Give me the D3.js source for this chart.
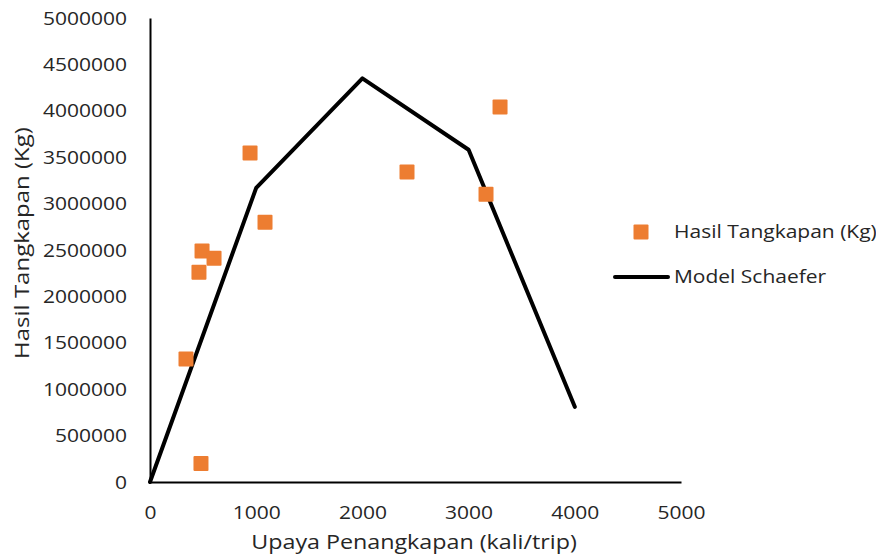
<!DOCTYPE html>
<html>
<head>
<meta charset="utf-8">
<script src="https://cdn.jsdelivr.net/npm/d3@7"></script>
<style>
  html, body { margin: 0; padding: 0; background: #fff; }
  svg text { font-family: "Open Sans", sans-serif; fill: #262626; }
</style>
</head>
<body>
<svg id="chart" width="876" height="559"></svg>
<script>
// ---- data ----
const effort = [942, 1083, 490, 603, 461, 339, 480, 2420, 3164, 3296];
const catchKg = [3545000, 2800000, 2490000, 2410000, 2260000, 1325000, 200000, 3340000, 3100000, 4040000];
const modelEffort = [0, 1000, 2000, 3000, 4000];
const modelCatch = [0, 3170000, 4350000, 3580000, 810000];
const xTicks = [0, 1000, 2000, 3000, 4000, 5000];
const yTicks = [0, 500000, 1000000, 1500000, 2000000, 2500000, 3000000, 3500000, 4000000, 4500000, 5000000];
const seriesNames = ["Hasil Tangkapan (Kg)", "Model Schaefer"];
const xTitle = "Upaya Penangkapan (kali/trip)";
const yTitle = "Hasil Tangkapan (Kg)";

const SX = 1.2; // horizontal stretch of the reference text
const svg = d3.select("#chart");
const m = { left: 150, right: 681, top: 18, bottom: 482 };

const x = d3.scaleLinear().domain([0, 5000]).range([m.left, m.right]);
const y = d3.scaleLinear().domain([0, 5000000]).range([m.bottom, m.top]);

// axes
const xAxis = svg.append("g").attr("transform", `translate(0,${m.bottom})`)
  .call(d3.axisBottom(x).tickValues(xTicks).tickSize(0).tickSizeOuter(0).tickPadding(0).tickFormat(d3.format("d")));
xAxis.select(".domain").attr("stroke", "#000").attr("stroke-width", 2);
xAxis.selectAll(".tick text")
  .attr("y", 0).attr("dy", 0)
  .attr("transform", "translate(0,37) scale(" + SX + ",1)")
  .style("font-size", "17.5px").style("font-family", "'Open Sans', sans-serif").attr("fill", "#262626");

const yAxis = svg.append("g").attr("transform", `translate(${m.left},0)`)
  .call(d3.axisLeft(y).tickValues(yTicks).tickSize(0).tickSizeOuter(0).tickPadding(0).tickFormat(d3.format("d")));
yAxis.select(".domain").attr("stroke", "#000").attr("stroke-width", 2);
yAxis.selectAll(".tick text")
  .attr("x", 0).attr("dy", "0.35em")
  .attr("transform", "translate(-23,0) scale(" + SX + ",1)")
  .style("font-size", "17.5px").style("font-family", "'Open Sans', sans-serif").attr("fill", "#262626");

// model line
const line = d3.line().x((d, i) => x(modelEffort[i])).y(d => y(d));
svg.append("path").datum(modelCatch)
  .attr("d", line).attr("fill", "none").attr("stroke", "#000")
  .attr("stroke-width", 4).attr("stroke-linejoin", "round").attr("stroke-linecap", "round");

// points
const S = 15;
svg.append("g").selectAll("rect").data(effort).join("rect")
  .attr("x", (d) => x(d) - S / 2)
  .attr("y", (d, i) => y(catchKg[i]) - S / 2)
  .attr("width", S).attr("height", S).attr("rx", 1)
  .attr("fill", "#ED7D31");

// titles
svg.append("text")
  .attr("transform", `translate(414,542) scale(${SX},1)`)
  .attr("text-anchor", "middle").attr("dy", "0.35em")
  .style("font-size", "19.4px").text(xTitle);
svg.append("text")
  .attr("transform", `translate(22,243) rotate(-90) scale(${SX},1)`)
  .attr("text-anchor", "middle").attr("dy", "0.35em")
  .style("font-size", "20px").text(yTitle);

// legend
const lg = svg.append("g");
lg.append("rect").attr("x", 641 - S / 2).attr("y", 232 - S / 2).attr("width", S).attr("height", S).attr("rx", 1).attr("fill", "#ED7D31");
lg.append("line").attr("x1", 615).attr("x2", 668).attr("y1", 277).attr("y2", 277).attr("stroke", "#000").attr("stroke-width", 4).attr("stroke-linecap", "round");
lg.selectAll("text.lt").data(seriesNames).join("text").attr("class", "lt")
  .attr("transform", (d, i) => `translate(674,${i === 0 ? 232 : 277}) scale(${SX},1)`)
  .attr("dy", "0.35em").style("font-size", "17.5px").text(d => d);
</script>
</body>
</html>
